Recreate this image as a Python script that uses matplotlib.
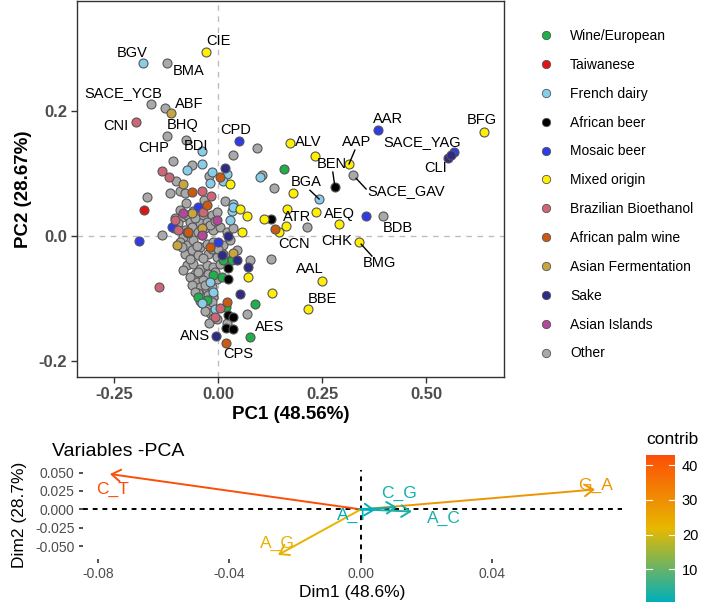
import matplotlib.pyplot as plt
from matplotlib.lines import Line2D
from matplotlib.colors import LinearSegmentedColormap, Normalize
import matplotlib as mpl

plt.rcParams['font.family'] = ['Liberation Sans', 'DejaVu Sans']

# ---- data: PCA individuals (PC1, PC2) by origin ----
groups = ['Wine/European', 'Taiwanese', 'French dairy', 'African beer', 'Mosaic beer',
          'Mixed origin', 'Brazilian Bioethanol', 'African palm wine', 'Asian Fermentation',
          'Sake', 'Asian Islands', 'Other']
group_colors = ['#1fb04a', '#e01414', '#87ceeb', '#000000', '#2e3be8', '#fff000',
                '#cd6677', '#cc5a10', '#c9a540', '#2e2a85', '#b5469b', '#a9a9a9']

other = [(-0.123, 0.276), (-0.161, 0.211), (-0.127, 0.204), (-0.123, 0.160), (-0.077, 0.153),
         (-0.108, 0.120), (-0.063, 0.113), (-0.021, 0.096), (-0.101, 0.088), (-0.115, 0.069),
         (-0.091, 0.072), (-0.079, 0.068), (-0.171, 0.062), (-0.135, 0.002), (0.094, 0.140),
         (0.036, 0.129), (0.325, 0.097), (0.106, 0.097), (0.135, 0.077), (0.397, 0.032),
         (0.214, 0.014), (0.127, -0.037), (0.070, -0.125), (0.077, -0.038), (0.017, 0.056),
         (-0.033, 0.057), (-0.077, 0.053),
         (-0.103, 0.028), (-0.087, 0.031), (-0.075, 0.033), (-0.051, 0.036), (-0.035, 0.031),
         (-0.015, 0.033), (-0.003, 0.039), (-0.067, 0.023), (-0.043, 0.020), (-0.027, 0.023),
         (-0.099, 0.012), (-0.079, 0.010), (-0.063, 0.015), (-0.047, 0.007), (-0.031, 0.012),
         (-0.011, 0.010), (0.005, 0.015), (0.021, 0.007), (0.037, 0.012), (-0.083, -0.001),
         (-0.091, -0.009), (-0.075, -0.014), (-0.059, -0.006), (-0.043, -0.017), (-0.027, -0.012),
         (-0.011, -0.009), (0.013, -0.014), (0.029, -0.006), (0.045, -0.022), (-0.079, -0.028),
         (-0.063, -0.022), (-0.047, -0.030), (-0.023, -0.028), (-0.003, -0.033), (0.013, -0.028),
         (0.037, -0.033), (-0.075, -0.046), (-0.059, -0.044), (-0.043, -0.052), (-0.027, -0.046),
         (-0.011, -0.049), (0.005, -0.044), (-0.055, -0.060), (-0.039, -0.065), (-0.023, -0.060),
         (-0.067, -0.065), (-0.051, -0.073), (-0.035, -0.070), (-0.019, -0.073), (-0.003, -0.068),
         (-0.043, -0.081), (-0.027, -0.086), (-0.015, -0.081), (-0.047, -0.091), (-0.035, -0.099),
         (-0.023, -0.094), (-0.011, -0.097), (-0.039, -0.107), (-0.027, -0.113), (-0.019, -0.123),
         (-0.011, -0.131), (-0.021, -0.139), (-0.003, -0.132), (0.021, -0.139),
         (-0.095, 0.020), (-0.071, 0.005), (-0.055, 0.028), (-0.039, 0.002), (-0.019, 0.018),
         (-0.007, 0.024), (-0.087, -0.018), (-0.067, -0.037), (-0.051, -0.016), (-0.035, -0.035),
         (-0.015, -0.020), (0.000, -0.020), (0.021, -0.040), (-0.083, -0.055), (-0.063, -0.078),
         (-0.047, -0.058), (-0.031, -0.078), (-0.007, -0.058), (-0.055, -0.090), (-0.043, -0.104),
         (-0.031, -0.120), (-0.015, -0.105), (-0.059, 0.040), (-0.043, 0.045), (-0.091, 0.042),
         (-0.107, 0.012)]
wine = [(0.159, 0.107), (0.012, -0.038), (0.034, -0.038), (0.010, -0.065), (-0.012, -0.062),
        (-0.047, -0.097), (-0.027, -0.102), (0.089, -0.108), (0.019, -0.113), (0.077, -0.161)]
taiwanese = [(-0.178, 0.041)]
french_dairy = [(-0.180, 0.276), (-0.038, 0.136), (-0.038, 0.115), (-0.075, 0.105), (-0.014, 0.102),
                (0.021, 0.099), (-0.019, 0.084), (0.012, 0.088), (0.035, 0.051), (0.033, 0.040),
                (0.029, 0.026), (0.101, 0.094), (0.243, 0.059), (-0.012, -0.089), (-0.038, -0.107),
                (-0.007, -0.116), (0.036, 0.046), (-0.019, -0.073)]
african_beer = [(0.281, 0.078), (0.127, 0.027), (0.024, -0.051), (0.024, -0.069), (0.025, -0.126),
                (0.036, -0.130), (0.019, -0.147), (0.036, -0.149)]
mosaic_beer = [(0.050, 0.152), (0.385, 0.169), (0.356, 0.032), (0.567, 0.134), (-0.190, -0.008),
               (-0.049, 0.046), (-0.111, 0.014), (-0.075, 0.006), (0.000, -0.010)]
mixed_origin = [(-0.029, 0.293), (0.173, 0.148), (0.233, 0.128), (0.315, 0.115), (0.180, 0.069),
                (0.166, 0.043), (0.236, 0.038), (0.291, 0.019), (0.111, 0.027), (0.163, 0.016),
                (0.147, 0.006), (0.057, 0.006), (0.339, -0.010), (0.069, 0.032), (0.053, 0.043),
                (0.250, -0.072), (0.216, -0.116), (0.130, -0.091), (0.072, -0.065), (0.639, 0.166),
                (0.029, 0.083)]
brazilian = [(-0.197, 0.182), (-0.134, 0.103), (-0.119, 0.094), (-0.039, 0.072), (-0.018, 0.064),
             (-0.103, 0.026), (-0.095, 0.010), (-0.035, 0.039), (-0.143, -0.082), (0.005, -0.115),
             (-0.007, -0.129)]
palm_wine = [(-0.062, 0.070), (0.005, 0.094), (-0.026, 0.049), (0.137, 0.011), (0.021, -0.106),
             (0.019, -0.171), (-0.072, 0.006), (-0.019, -0.018)]
asian_ferm = [(-0.113, 0.196), (-0.083, 0.083), (-0.062, 0.036), (-0.038, 0.012), (-0.099, -0.014),
              (0.037, -0.027)]
sake = [(0.553, 0.124), (0.560, 0.129), (0.017, 0.108), (0.024, 0.000), (0.046, -0.038),
        (0.072, -0.050), (0.054, -0.093), (-0.005, -0.160), (0.010, -0.030)]
asian_islands = [(-0.084, 0.036), (-0.002, 0.026), (-0.038, 0.002)]

all_points = [wine, taiwanese, french_dairy, african_beer, mosaic_beer, mixed_origin,
              brazilian, palm_wine, asian_ferm, sake, asian_islands, other]

# sample labels (name, text x, text y)
sample_labels = [('BGV', -0.207, 0.292), ('BMA', -0.070, 0.263), ('CIE', 0.002, 0.311),
                 ('SACE_YCB', -0.228, 0.228), ('ABF', -0.070, 0.211), ('CNI', -0.245, 0.175),
                 ('BHQ', -0.084, 0.177), ('CHP', -0.154, 0.140), ('BDI', -0.053, 0.144),
                 ('CPD', 0.043, 0.169), ('ALV', 0.216, 0.150), ('AAP', 0.334, 0.150),
                 ('BEN', 0.274, 0.115), ('AAR', 0.409, 0.187), ('SACE_YAG', 0.490, 0.150),
                 ('BFG', 0.635, 0.185), ('CLI', 0.524, 0.108), ('SACE_GAV', 0.452, 0.072),
                 ('BGA', 0.212, 0.086), ('ATR', 0.190, 0.030), ('AEQ', 0.291, 0.035),
                 ('BDB', 0.433, 0.013), ('CCN', 0.183, -0.013), ('CHK', 0.286, -0.008),
                 ('BMG', 0.389, -0.043), ('AAL', 0.221, -0.053), ('BBE', 0.250, -0.100),
                 ('AES', 0.123, -0.145), ('ANS', -0.055, -0.160), ('CPS', 0.048, -0.189)]
# repel segments (label end -> point)
segments = [((0.329, 0.137), (0.315, 0.115)), ((0.276, 0.102), (0.281, 0.078)),
            ((0.332, 0.092), (0.356, 0.075)), ((0.221, 0.073), (0.243, 0.059)),
            ((0.344, -0.013), (0.370, -0.032))]

# ---- data: PCA variables ----
var_names = ['C_T', 'A_G', 'G_A', 'C_G', 'A_C', 'A_T']
var_dim1 = [-0.0763, -0.0252, 0.0712, 0.0110, 0.0155, 0.0043]
var_dim2 = [0.048, -0.062, 0.027, 0.003, -0.003, -0.001]
var_contrib = [43.0, 23.0, 28.5, 2.0, 3.0, 0.5]
var_label_x = [-0.0755, -0.0255, 0.0714, 0.0117, 0.0252, -0.0024]
var_label_y = [0.027, -0.046, 0.033, 0.021, -0.013, -0.008]

W, H = 720, 604
fig = plt.figure(figsize=(7.2, 6.04), dpi=100)

# ---------------- top panel ----------------
ax = fig.add_axes([77 / W, 1 - 377 / H, 427 / W, 376 / H])
ax.set_xlim(-0.339, 0.6875)
ax.set_ylim(-0.225, 0.375)
ax.axhline(0, color='#bdbdbd', lw=1.0, ls=(0, (4, 4)), zorder=1)
ax.axvline(0, color='#bdbdbd', lw=1.0, ls=(0, (4, 4)), zorder=1)

draw_order = [11] + list(range(11))
for i in draw_order:
    xs = [p[0] for p in all_points[i]]
    ys = [p[1] for p in all_points[i]]
    ax.scatter(xs, ys, s=42, c=group_colors[i], edgecolors='#555555', linewidths=0.8, zorder=3)

for (x0, y0), (x1, y1) in segments:
    ax.plot([x0, x1], [y0, y1], color='black', lw=1.0, zorder=4)
for name, tx, ty in sample_labels:
    ax.text(tx, ty, name, fontsize=10.5, ha='center', va='center', color='black', zorder=5)

ax.set_xticks([-0.25, 0.0, 0.25, 0.5])
ax.set_xticklabels(['-0.25', '0.00', '0.25', '0.50'])
ax.set_yticks([-0.2, 0.0, 0.2])
ax.set_yticklabels(['-0.2', '0.0', '0.2'])
ax.tick_params(labelsize=12, labelcolor='#4d4d4d', color='#333333', length=4, width=1, pad=3)
for t in ax.get_xticklabels() + ax.get_yticklabels():
    t.set_fontweight('bold')
for s in ax.spines.values():
    s.set_color('#333333')
    s.set_linewidth(1.0)
ax.set_xlabel('PC1 (48.56%)', fontsize=13.5, fontweight='bold', labelpad=3)
ax.set_ylabel('PC2 (28.67%)', fontsize=13.5, fontweight='bold', labelpad=5)

handles = [Line2D([], [], marker='o', ls='', markersize=6, markerfacecolor=c,
                  markeredgecolor='#555555', markeredgewidth=0.6) for c in group_colors]
fig.legend(handles, groups, loc='upper left', bbox_to_anchor=(539.5 / W, 1 - 29 / H),
           frameon=False, fontsize=10, handlelength=0.95, handletextpad=1.25,
           labelspacing=1.07, borderpad=0, borderaxespad=0)

# ---------------- bottom panel ----------------
cmap = LinearSegmentedColormap.from_list('contrib', ['#00AFBB', '#E7B800', '#FC4E07'])
norm = Normalize(vmin=0.5, vmax=43.0)

bx = fig.add_axes([83 / W, 1 - 559 / H, 539 / W, 89 / H])
bx.set_xlim(-0.0845, 0.0794)
bx.set_ylim(-0.0675, 0.0535)
bx.axhline(0, color='black', lw=1.4, ls=(0, (2.5, 2.5)), zorder=1)
bx.axvline(0, color='black', lw=1.4, ls=(0, (2.5, 2.5)), zorder=1)
for name, x, y, c, lx, ly in zip(var_names, var_dim1, var_dim2, var_contrib, var_label_x, var_label_y):
    col = cmap(norm(c))
    bx.annotate('', xy=(x, y), xytext=(0, 0),
                arrowprops=dict(arrowstyle='->,head_length=0.45,head_width=0.3', color=col,
                                lw=1.4, shrinkA=0, shrinkB=0, mutation_scale=14), zorder=3)
    bx.text(lx, ly, name, color=col, fontsize=12.5, ha='center', va='center', zorder=4)

for s in bx.spines.values():
    s.set_visible(False)
bx.set_xticks([-0.08, -0.04, 0.0, 0.04])
bx.set_xticklabels(['-0.08', '-0.04', '0.00', '0.04'])
bx.set_yticks([-0.05, -0.025, 0.0, 0.025, 0.05])
bx.set_yticklabels(['-0.050', '-0.025', '0.000', '0.025', '0.050'])
bx.tick_params(labelsize=10, labelcolor='#4d4d4d', color='#333333', length=3, width=1.2, pad=3)
bx.set_xlabel('Dim1 (48.6%)', fontsize=12.5, labelpad=3)
bx.set_ylabel('Dim2 (28.7%)', fontsize=12.5, labelpad=6)
fig.text(52 / W, 1 - 452 / H, 'Variables -PCA', fontsize=14, ha='left', va='center')

cax = fig.add_axes([646 / W, 1 - 602 / H, 29 / W, 147 / H])
cb = mpl.colorbar.ColorbarBase(cax, cmap=cmap, norm=norm, orientation='vertical')
cb.outline.set_visible(False)
cb.set_ticks([10, 20, 30, 40])
cax.tick_params(labelsize=10.5, length=0, pad=5)
for v in [10, 20, 30, 40]:
    cax.plot([0, 0.2], [v, v], color='white', lw=0.8)
    cax.plot([0.8, 1], [v, v], color='white', lw=0.8)
cax.set_xlim(0, 1)
fig.text(646 / W, 1 - 440 / H, 'contrib', fontsize=12.5, ha='left', va='center')

fig.savefig('out.png', dpi=100)
